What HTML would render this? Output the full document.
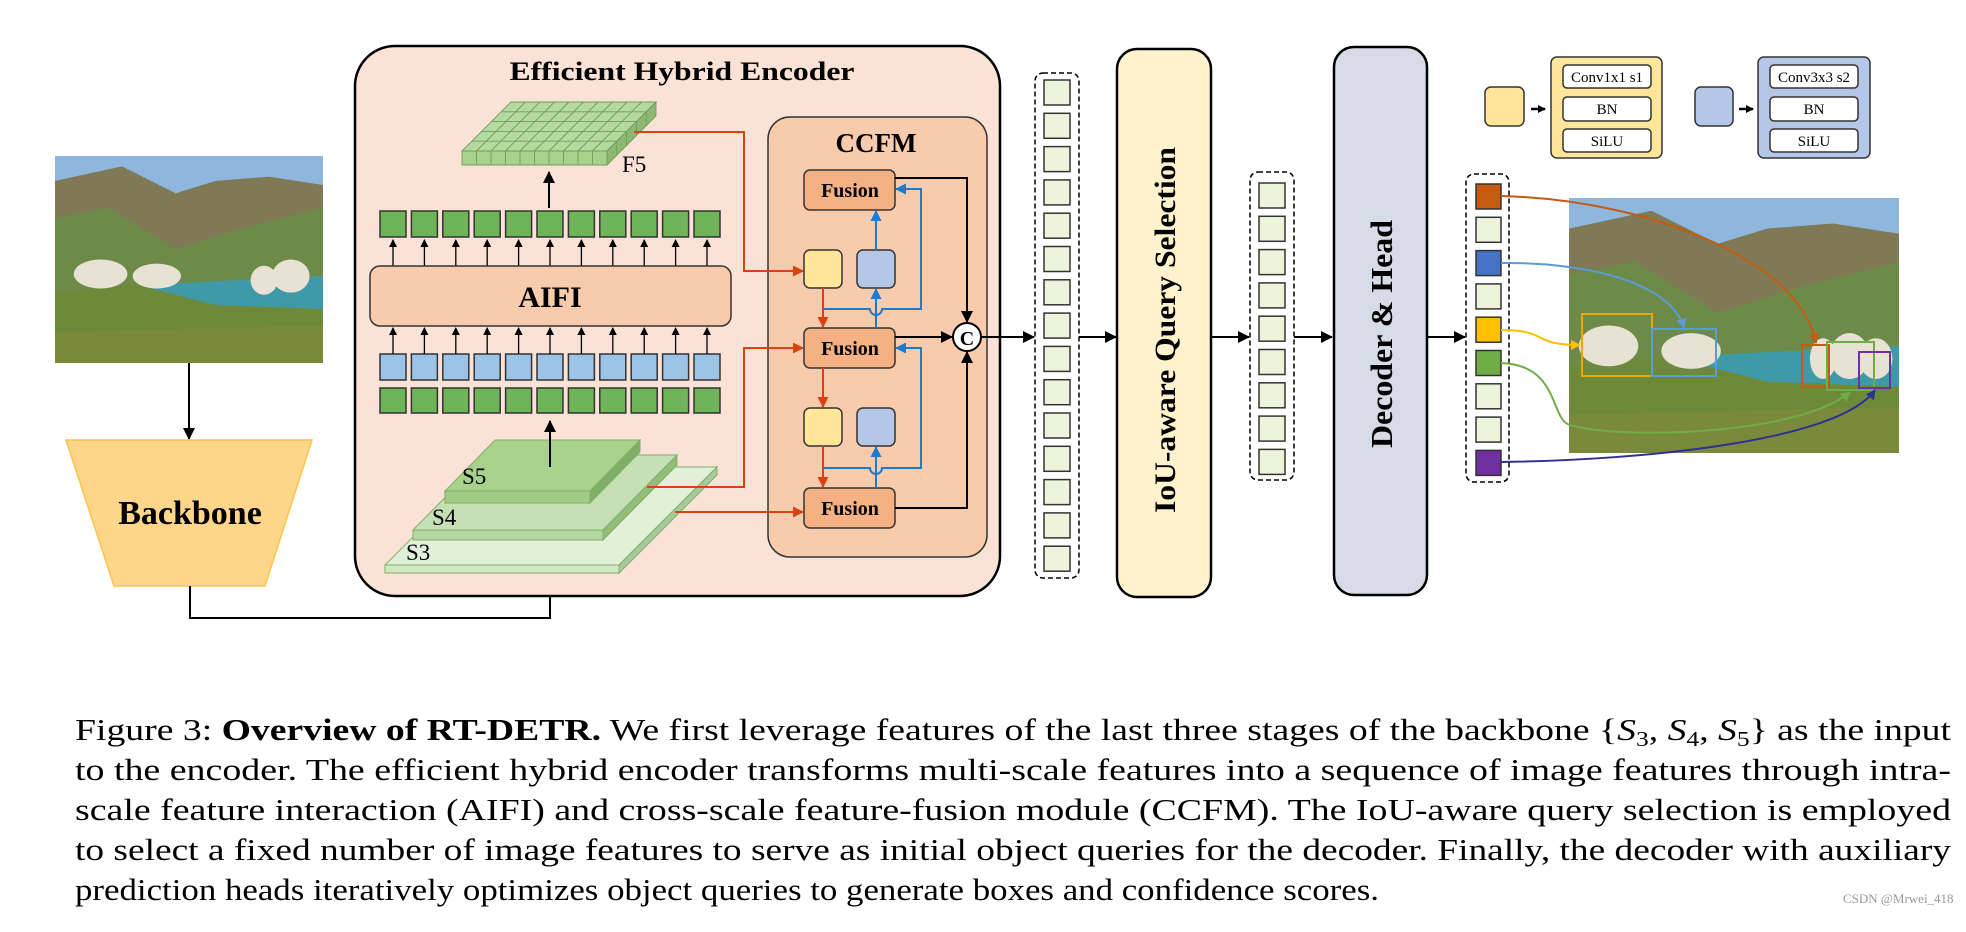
<!DOCTYPE html>
<html><head><meta charset="utf-8"><style>
html,body{margin:0;padding:0;background:#fff;}
svg{display:block;}
text{font-family:"Liberation Serif",serif;}
</style></head><body>
<svg width="1966" height="932" viewBox="0 0 1966 932" xmlns="http://www.w3.org/2000/svg">
<defs>
<marker id="ak" markerWidth="8" markerHeight="8" refX="7" refY="4" orient="auto" markerUnits="userSpaceOnUse"><path d="M0,0 L8,4 L0,8 z" fill="#000"/></marker>
<marker id="akb" markerWidth="12" markerHeight="12" refX="11" refY="6" orient="auto" markerUnits="userSpaceOnUse"><path d="M0,0 L12,6 L0,12 z" fill="#000"/></marker>
<marker id="ar" markerWidth="11" markerHeight="11" refX="10" refY="5.5" orient="auto" markerUnits="userSpaceOnUse"><path d="M0,0 L11,5.5 L0,11 z" fill="#d9430f"/></marker>
<marker id="ab" markerWidth="11" markerHeight="11" refX="10" refY="5.5" orient="auto" markerUnits="userSpaceOnUse"><path d="M0,0 L11,5.5 L0,11 z" fill="#1b7bd1"/></marker>
<marker id="ao" markerWidth="10" markerHeight="10" refX="9" refY="5" orient="auto" markerUnits="userSpaceOnUse"><path d="M0,0 L10,5 L0,10 z" fill="#c55a11"/></marker>
<marker id="abl" markerWidth="10" markerHeight="10" refX="9" refY="5" orient="auto" markerUnits="userSpaceOnUse"><path d="M0,0 L10,5 L0,10 z" fill="#5b9bd5"/></marker>
<marker id="ay" markerWidth="10" markerHeight="10" refX="9" refY="5" orient="auto" markerUnits="userSpaceOnUse"><path d="M0,0 L10,5 L0,10 z" fill="#ffc000"/></marker>
<marker id="ag" markerWidth="10" markerHeight="10" refX="9" refY="5" orient="auto" markerUnits="userSpaceOnUse"><path d="M0,0 L10,5 L0,10 z" fill="#70ad47"/></marker>
<marker id="ap" markerWidth="10" markerHeight="10" refX="9" refY="5" orient="auto" markerUnits="userSpaceOnUse"><path d="M0,0 L10,5 L0,10 z" fill="#2e3192"/></marker>
<g id="photo">
<rect x="0" y="0" width="100" height="100" fill="#8fb6dc"/>
<path d="M0,12 L25,5 L45,18 L60,12 L80,10 L100,14 L100,100 L0,100 z" fill="#7f7a55"/>
<path d="M0,30 L20,25 L45,45 L70,35 L100,25 L100,100 L0,100z" fill="#6e8a48"/>
<path d="M35,62 L100,58 L100,75 L35,75z" fill="#3f9aa8"/>
<path d="M0,66 L30,62 L60,72 L100,74 L100,100 L0,100z" fill="#6d8a3b"/>
<path d="M0,85 L100,82 L100,100 L0,100z" fill="#7b8a3a"/>
</g>
</defs>

<g transform="translate(55,156) scale(2.68,2.07)">
<use href="#photo"/>
<ellipse cx="17" cy="57" rx="10" ry="7" fill="#e8e2d4"/><ellipse cx="38" cy="58" rx="9" ry="6" fill="#e8e2d4"/>
<ellipse cx="78" cy="60" rx="5" ry="7" fill="#e8e2d4"/><ellipse cx="88" cy="58" rx="7" ry="8" fill="#e8e2d4"/>
</g>
<line x1="189" y1="363" x2="189" y2="439" stroke="#000" stroke-width="2" marker-end="url(#akb)"/>
<polygon points="66,440 312,440 265,586 114,586" fill="#fdd68a" stroke="#fcc44a" stroke-width="1.5"/>
<text x="190" y="524" font-size="34" font-weight="bold" text-anchor="middle">Backbone</text>
<polyline points="190,586 190,618 550,618 550,576" fill="none" stroke="#000" stroke-width="2" marker-end="url(#akb)"/>

<rect x="355" y="46" width="645" height="550" rx="40" fill="#fae3d6" stroke="#000" stroke-width="2.5"/>
<text x="682" y="80" font-size="26" font-weight="bold" text-anchor="middle" textLength="345" lengthAdjust="spacingAndGlyphs">Efficient Hybrid Encoder</text>

<g stroke="#7fb06a" stroke-width="1">
<polygon points="385,565 619,565 717,467 483,467" fill="#e2f0d9"/>
<polygon points="385,565 619,565 619,573 385,573" fill="#d3e8c6"/>
<polygon points="619,565 717,467 717,475 619,573" fill="#a8c99a"/>
<polygon points="413,530 603,530 677,455 487,455" fill="#c5e0b4"/>
<polygon points="413,530 603,530 603,540 413,540" fill="#b6d6a2"/>
<polygon points="603,530 677,455 677,465 603,540" fill="#93bb7c"/>
<polygon points="445,491 590,491 640,440 495,440" fill="#a9d18e"/>
<polygon points="445,491 590,491 590,503 445,503" fill="#a0cc86"/>
<polygon points="590,491 640,440 640,452 590,503" fill="#7fae66"/>
</g>
<text x="462" y="484" font-size="23">S5</text>
<text x="432" y="525" font-size="23">S4</text>
<text x="406" y="560" font-size="23">S3</text>
<line x1="550" y1="467" x2="550" y2="421" stroke="#000" stroke-width="2" marker-end="url(#akb)"/>

<g stroke="#333" stroke-width="1.5">
<rect x="380" y="388" width="26" height="25" fill="#70b45a"/><rect x="411.4" y="388" width="26" height="25" fill="#70b45a"/><rect x="442.8" y="388" width="26" height="25" fill="#70b45a"/><rect x="474.2" y="388" width="26" height="25" fill="#70b45a"/><rect x="505.6" y="388" width="26" height="25" fill="#70b45a"/><rect x="537" y="388" width="26" height="25" fill="#70b45a"/><rect x="568.4" y="388" width="26" height="25" fill="#70b45a"/><rect x="599.8" y="388" width="26" height="25" fill="#70b45a"/><rect x="631.2" y="388" width="26" height="25" fill="#70b45a"/><rect x="662.6" y="388" width="26" height="25" fill="#70b45a"/><rect x="694" y="388" width="26" height="25" fill="#70b45a"/>
<rect x="380" y="354" width="26" height="26" fill="#9dc3e6"/><rect x="411.4" y="354" width="26" height="26" fill="#9dc3e6"/><rect x="442.8" y="354" width="26" height="26" fill="#9dc3e6"/><rect x="474.2" y="354" width="26" height="26" fill="#9dc3e6"/><rect x="505.6" y="354" width="26" height="26" fill="#9dc3e6"/><rect x="537" y="354" width="26" height="26" fill="#9dc3e6"/><rect x="568.4" y="354" width="26" height="26" fill="#9dc3e6"/><rect x="599.8" y="354" width="26" height="26" fill="#9dc3e6"/><rect x="631.2" y="354" width="26" height="26" fill="#9dc3e6"/><rect x="662.6" y="354" width="26" height="26" fill="#9dc3e6"/><rect x="694" y="354" width="26" height="26" fill="#9dc3e6"/>
<rect x="380" y="211" width="26" height="26" fill="#70b45a"/><rect x="411.4" y="211" width="26" height="26" fill="#70b45a"/><rect x="442.8" y="211" width="26" height="26" fill="#70b45a"/><rect x="474.2" y="211" width="26" height="26" fill="#70b45a"/><rect x="505.6" y="211" width="26" height="26" fill="#70b45a"/><rect x="537" y="211" width="26" height="26" fill="#70b45a"/><rect x="568.4" y="211" width="26" height="26" fill="#70b45a"/><rect x="599.8" y="211" width="26" height="26" fill="#70b45a"/><rect x="631.2" y="211" width="26" height="26" fill="#70b45a"/><rect x="662.6" y="211" width="26" height="26" fill="#70b45a"/><rect x="694" y="211" width="26" height="26" fill="#70b45a"/>
</g>
<g stroke="#000" stroke-width="1.3">
<line x1="393" y1="354" x2="393" y2="328" marker-end="url(#ak)"/><line x1="424.4" y1="354" x2="424.4" y2="328" marker-end="url(#ak)"/><line x1="455.8" y1="354" x2="455.8" y2="328" marker-end="url(#ak)"/><line x1="487.2" y1="354" x2="487.2" y2="328" marker-end="url(#ak)"/><line x1="518.6" y1="354" x2="518.6" y2="328" marker-end="url(#ak)"/><line x1="550" y1="354" x2="550" y2="328" marker-end="url(#ak)"/><line x1="581.4" y1="354" x2="581.4" y2="328" marker-end="url(#ak)"/><line x1="612.8" y1="354" x2="612.8" y2="328" marker-end="url(#ak)"/><line x1="644.2" y1="354" x2="644.2" y2="328" marker-end="url(#ak)"/><line x1="675.6" y1="354" x2="675.6" y2="328" marker-end="url(#ak)"/><line x1="707" y1="354" x2="707" y2="328" marker-end="url(#ak)"/>
<line x1="393" y1="266" x2="393" y2="240" marker-end="url(#ak)"/><line x1="424.4" y1="266" x2="424.4" y2="240" marker-end="url(#ak)"/><line x1="455.8" y1="266" x2="455.8" y2="240" marker-end="url(#ak)"/><line x1="487.2" y1="266" x2="487.2" y2="240" marker-end="url(#ak)"/><line x1="518.6" y1="266" x2="518.6" y2="240" marker-end="url(#ak)"/><line x1="550" y1="266" x2="550" y2="240" marker-end="url(#ak)"/><line x1="581.4" y1="266" x2="581.4" y2="240" marker-end="url(#ak)"/><line x1="612.8" y1="266" x2="612.8" y2="240" marker-end="url(#ak)"/><line x1="644.2" y1="266" x2="644.2" y2="240" marker-end="url(#ak)"/><line x1="675.6" y1="266" x2="675.6" y2="240" marker-end="url(#ak)"/><line x1="707" y1="266" x2="707" y2="240" marker-end="url(#ak)"/>
</g>
<rect x="370" y="266" width="361" height="60" rx="10" fill="#f8cbad" stroke="#333" stroke-width="1.5"/>
<text x="550" y="307" font-size="30" font-weight="bold" text-anchor="middle">AIFI</text>
<line x1="549" y1="208" x2="549" y2="172" stroke="#000" stroke-width="2" marker-end="url(#akb)"/>

<g stroke="#6f9e5a" stroke-width="0.9">
<polygon points="462,151 607,151 656,102 511,102" fill="#b5d99e"/>
<polygon points="462,151 607,151 607,165 462,165" fill="#a9d18e"/>
<polygon points="607,151 656,102 656,116 607,165" fill="#8db874"/>
<path d="M476.5,151 L525.5,102 M491,151 L540,102 M505.5,151 L554.5,102 M520,151 L569,102 M534.5,151 L583.5,102 M549,151 L598,102 M563.5,151 L612.5,102 M578,151 L627,102 M592.5,151 L641.5,102 M471.8,141.2 L616.8,141.2 M481.6,131.4 L626.6,131.4 M491.4,121.6 L636.4,121.6 M501.2,111.8 L646.2,111.8 M476.5,151 L476.5,165 M491,151 L491,165 M505.5,151 L505.5,165 M520,151 L520,165 M534.5,151 L534.5,165 M549,151 L549,165 M563.5,151 L563.5,165 M578,151 L578,165 M592.5,151 L592.5,165 M616.8,141.2 L616.8,155 M626.6,131.4 L626.6,145 M636.4,121.6 L636.4,135 M646.2,111.8 L646.2,126" fill="none"/>
</g>
<text x="622" y="172" font-size="23">F5</text>

<rect x="768" y="117" width="219" height="440" rx="22" fill="#f8cbad" stroke="#333" stroke-width="1.5"/>
<text x="876" y="152" font-size="27" font-weight="bold" text-anchor="middle">CCFM</text>
<g stroke="#333" stroke-width="1.5">
<rect x="804" y="170" width="91" height="40" rx="6" fill="#f4b183"/>
<rect x="804" y="328" width="91" height="40" rx="6" fill="#f4b183"/>
<rect x="804" y="488" width="91" height="40" rx="6" fill="#f4b183"/>
<rect x="804" y="250" width="38" height="38" rx="6" fill="#ffe699"/>
<rect x="804" y="408" width="38" height="38" rx="6" fill="#ffe699"/>
<rect x="857" y="250" width="38" height="38" rx="6" fill="#b4c7e7"/>
<rect x="857" y="408" width="38" height="38" rx="6" fill="#b4c7e7"/>
</g>
<g font-size="20" font-weight="bold" text-anchor="middle">
<text x="850" y="197">Fusion</text><text x="850" y="355">Fusion</text><text x="850" y="515">Fusion</text>
</g>
<g stroke="#d9430f" stroke-width="2" fill="none">
<polyline points="634,132 744,132 744,271 803,271" marker-end="url(#ar)"/>
<polyline points="647,487 744,487 744,348 803,348" marker-end="url(#ar)"/>
<polyline points="675,512 803,512" marker-end="url(#ar)"/>
<line x1="823" y1="288" x2="823" y2="327" marker-end="url(#ar)"/>
<line x1="823" y1="368" x2="823" y2="407" marker-end="url(#ar)"/>
<line x1="823" y1="446" x2="823" y2="487" marker-end="url(#ar)"/>
</g>
<g stroke="#1b7bd1" stroke-width="2" fill="none">
<line x1="876" y1="250" x2="876" y2="211" marker-end="url(#ab)"/>
<line x1="876" y1="328" x2="876" y2="289" marker-end="url(#ab)"/>
<line x1="876" y1="488" x2="876" y2="447" marker-end="url(#ab)"/>
<path d="M823,309 L870,309 A6,6 0 0 0 882,309 L921,309 L921,189 L896,189" marker-end="url(#ab)"/>
<path d="M823,468 L870,468 A6,6 0 0 0 882,468 L921,468 L921,348 L896,348" marker-end="url(#ab)"/>
</g>
<g stroke="#000" stroke-width="2" fill="none">
<polyline points="895,178 967,178 967,322" marker-end="url(#akb)"/>
<polyline points="895,508 967,508 967,352" marker-end="url(#akb)"/>
<line x1="895" y1="337" x2="952" y2="337" marker-end="url(#akb)"/>
<line x1="981" y1="337" x2="1034" y2="337" marker-end="url(#akb)"/>
</g>
<circle cx="967" cy="337" r="14" fill="#fff" stroke="#000" stroke-width="2"/>
<text x="967" y="345" font-size="20" font-weight="bold" text-anchor="middle">C</text>

<rect x="1035" y="73" width="44" height="505" rx="8" fill="none" stroke="#000" stroke-width="1.5" stroke-dasharray="5,3"/>
<g fill="#eef3dc" stroke="#333" stroke-width="1.5">
<rect x="1044" y="80" width="26" height="25"/><rect x="1044" y="113.3" width="26" height="25"/><rect x="1044" y="146.6" width="26" height="25"/><rect x="1044" y="179.9" width="26" height="25"/><rect x="1044" y="213.2" width="26" height="25"/><rect x="1044" y="246.5" width="26" height="25"/><rect x="1044" y="279.8" width="26" height="25"/><rect x="1044" y="313.1" width="26" height="25"/><rect x="1044" y="346.4" width="26" height="25"/><rect x="1044" y="379.7" width="26" height="25"/><rect x="1044" y="413" width="26" height="25"/><rect x="1044" y="446.3" width="26" height="25"/><rect x="1044" y="479.6" width="26" height="25"/><rect x="1044" y="512.9" width="26" height="25"/><rect x="1044" y="546.2" width="26" height="25"/>
</g>
<line x1="1079" y1="337" x2="1116" y2="337" stroke="#000" stroke-width="2" marker-end="url(#akb)"/>
<rect x="1117" y="49" width="94" height="548" rx="20" fill="#fff2cc" stroke="#000" stroke-width="2.5"/>
<text transform="translate(1175,330) rotate(-90)" font-size="30" font-weight="bold" text-anchor="middle" textLength="366" lengthAdjust="spacingAndGlyphs">IoU-aware Query Selection</text>
<line x1="1211" y1="337" x2="1249" y2="337" stroke="#000" stroke-width="2" marker-end="url(#akb)"/>

<rect x="1250" y="172" width="44" height="308" rx="8" fill="none" stroke="#000" stroke-width="1.5" stroke-dasharray="5,3"/>
<g fill="#eef3dc" stroke="#333" stroke-width="1.5">
<rect x="1259" y="183" width="26" height="25"/><rect x="1259" y="216.3" width="26" height="25"/><rect x="1259" y="249.6" width="26" height="25"/><rect x="1259" y="282.9" width="26" height="25"/><rect x="1259" y="316.2" width="26" height="25"/><rect x="1259" y="349.5" width="26" height="25"/><rect x="1259" y="382.8" width="26" height="25"/><rect x="1259" y="416.1" width="26" height="25"/><rect x="1259" y="449.4" width="26" height="25"/>
</g>
<line x1="1294" y1="337" x2="1332" y2="337" stroke="#000" stroke-width="2" marker-end="url(#akb)"/>
<rect x="1334" y="47" width="93" height="548" rx="20" fill="#d6dce5" stroke="#000" stroke-width="2.5"/>
<text transform="translate(1392,334) rotate(-90)" font-size="31" font-weight="bold" text-anchor="middle" textLength="228" lengthAdjust="spacingAndGlyphs">Decoder &amp; Head</text>
<line x1="1427" y1="337" x2="1465" y2="337" stroke="#000" stroke-width="2" marker-end="url(#akb)"/>

<rect x="1466" y="174" width="43" height="308" rx="8" fill="none" stroke="#000" stroke-width="1.5" stroke-dasharray="5,3"/>
<g stroke="#333" stroke-width="1.5">
<rect x="1476" y="184" width="25" height="25" fill="#c55a11"/><rect x="1476" y="217.3" width="25" height="25" fill="#eef3dc"/><rect x="1476" y="250.6" width="25" height="25" fill="#4472c4"/><rect x="1476" y="283.9" width="25" height="25" fill="#eef3dc"/><rect x="1476" y="317.2" width="25" height="25" fill="#ffc000"/><rect x="1476" y="350.5" width="25" height="25" fill="#70ad47"/><rect x="1476" y="383.8" width="25" height="25" fill="#eef3dc"/><rect x="1476" y="417.1" width="25" height="25" fill="#eef3dc"/><rect x="1476" y="450.4" width="25" height="25" fill="#7030a0"/>
</g>

<g transform="translate(1569,198) scale(3.3,2.55)">
<use href="#photo"/>
<ellipse cx="12" cy="58" rx="9" ry="8" fill="#e8e2d4"/><ellipse cx="37" cy="60" rx="9" ry="7" fill="#e8e2d4"/>
<ellipse cx="77" cy="63" rx="4" ry="8" fill="#e8e2d4"/><ellipse cx="85" cy="62" rx="6" ry="9" fill="#e8e2d4"/><ellipse cx="93" cy="63" rx="5" ry="8" fill="#e8e2d4"/>
</g>
<g fill="none" stroke-width="2">
<rect x="1582" y="314" width="70" height="62" stroke="#e8a900"/>
<rect x="1652" y="329" width="64" height="47" stroke="#5b9bd5"/>
<rect x="1802" y="345" width="27" height="42" stroke="#c55a11"/>
<rect x="1827" y="342" width="47" height="48" stroke="#70ad47"/>
<rect x="1859" y="352" width="31" height="36" stroke="#7030a0"/>
<path d="M1501,196 C1650,200 1800,260 1816,343" stroke="#c55a11" marker-end="url(#ao)"/>
<path d="M1501,263 C1580,262 1670,280 1684,328" stroke="#5b9bd5" marker-end="url(#abl)"/>
<path d="M1501,330 C1550,330 1530,345 1580,345" stroke="#ffc000" marker-end="url(#ay)"/>
<path d="M1501,363 C1560,365 1550,420 1570,425 C1620,440 1800,435 1850,392" stroke="#70ad47" marker-end="url(#ag)"/>
<path d="M1501,462 C1650,460 1840,440 1875,390" stroke="#2e3192" marker-end="url(#ap)"/>
</g>

<rect x="1485" y="87" width="39" height="39" rx="6" fill="#ffe699" stroke="#333" stroke-width="1.5"/>
<line x1="1531" y1="109" x2="1545" y2="109" stroke="#000" stroke-width="2.5" marker-end="url(#ak)"/>
<rect x="1551" y="57" width="111" height="101" rx="6" fill="#ffe699" stroke="#333" stroke-width="1.5"/>
<rect x="1695" y="87" width="38" height="39" rx="6" fill="#b4c7e7" stroke="#333" stroke-width="1.5"/>
<line x1="1739" y1="109" x2="1753" y2="109" stroke="#000" stroke-width="2.5" marker-end="url(#ak)"/>
<rect x="1758" y="57" width="112" height="101" rx="6" fill="#b4c7e7" stroke="#333" stroke-width="1.5"/>
<g fill="#fff" stroke="#333" stroke-width="1.5">
<rect x="1563" y="65" width="88" height="23" rx="4"/><rect x="1563" y="97" width="88" height="24" rx="4"/><rect x="1563" y="129" width="88" height="23" rx="4"/>
<rect x="1770" y="65" width="88" height="23" rx="4"/><rect x="1770" y="97" width="88" height="24" rx="4"/><rect x="1770" y="129" width="88" height="23" rx="4"/>
</g>
<g font-size="15" text-anchor="middle">
<text x="1607" y="82">Conv1x1 s1</text><text x="1607" y="114">BN</text><text x="1607" y="146">SiLU</text>
<text x="1814" y="82">Conv3x3 s2</text><text x="1814" y="114">BN</text><text x="1814" y="146">SiLU</text>
</g>

<g font-size="31">
<text x="75" y="740" textLength="1876" lengthAdjust="spacingAndGlyphs">Figure 3: <tspan font-weight="bold">Overview of RT-DETR.</tspan> We first leverage features of the last three stages of the backbone {<tspan font-style="italic">S</tspan><tspan font-size="21" dy="6">3</tspan><tspan dy="-6">, </tspan><tspan font-style="italic">S</tspan><tspan font-size="21" dy="6">4</tspan><tspan dy="-6">, </tspan><tspan font-style="italic">S</tspan><tspan font-size="21" dy="6">5</tspan><tspan dy="-6">} as the input</tspan></text>
<text x="75" y="780" textLength="1876" lengthAdjust="spacingAndGlyphs">to the encoder. The efficient hybrid encoder transforms multi-scale features into a sequence of image features through intra-</text>
<text x="75" y="820" textLength="1876" lengthAdjust="spacingAndGlyphs">scale feature interaction (AIFI) and cross-scale feature-fusion module (CCFM). The IoU-aware query selection is employed</text>
<text x="75" y="860" textLength="1876" lengthAdjust="spacingAndGlyphs">to select a fixed number of image features to serve as initial object queries for the decoder. Finally, the decoder with auxiliary</text>
<text x="75" y="900" textLength="1304" lengthAdjust="spacingAndGlyphs">prediction heads iteratively optimizes object queries to generate boxes and confidence scores.</text>
</g>
<text x="1843" y="903" font-size="13" fill="#999" font-family="Liberation Sans, sans-serif">CSDN @Mrwei_418</text>
</svg>
</body></html>
